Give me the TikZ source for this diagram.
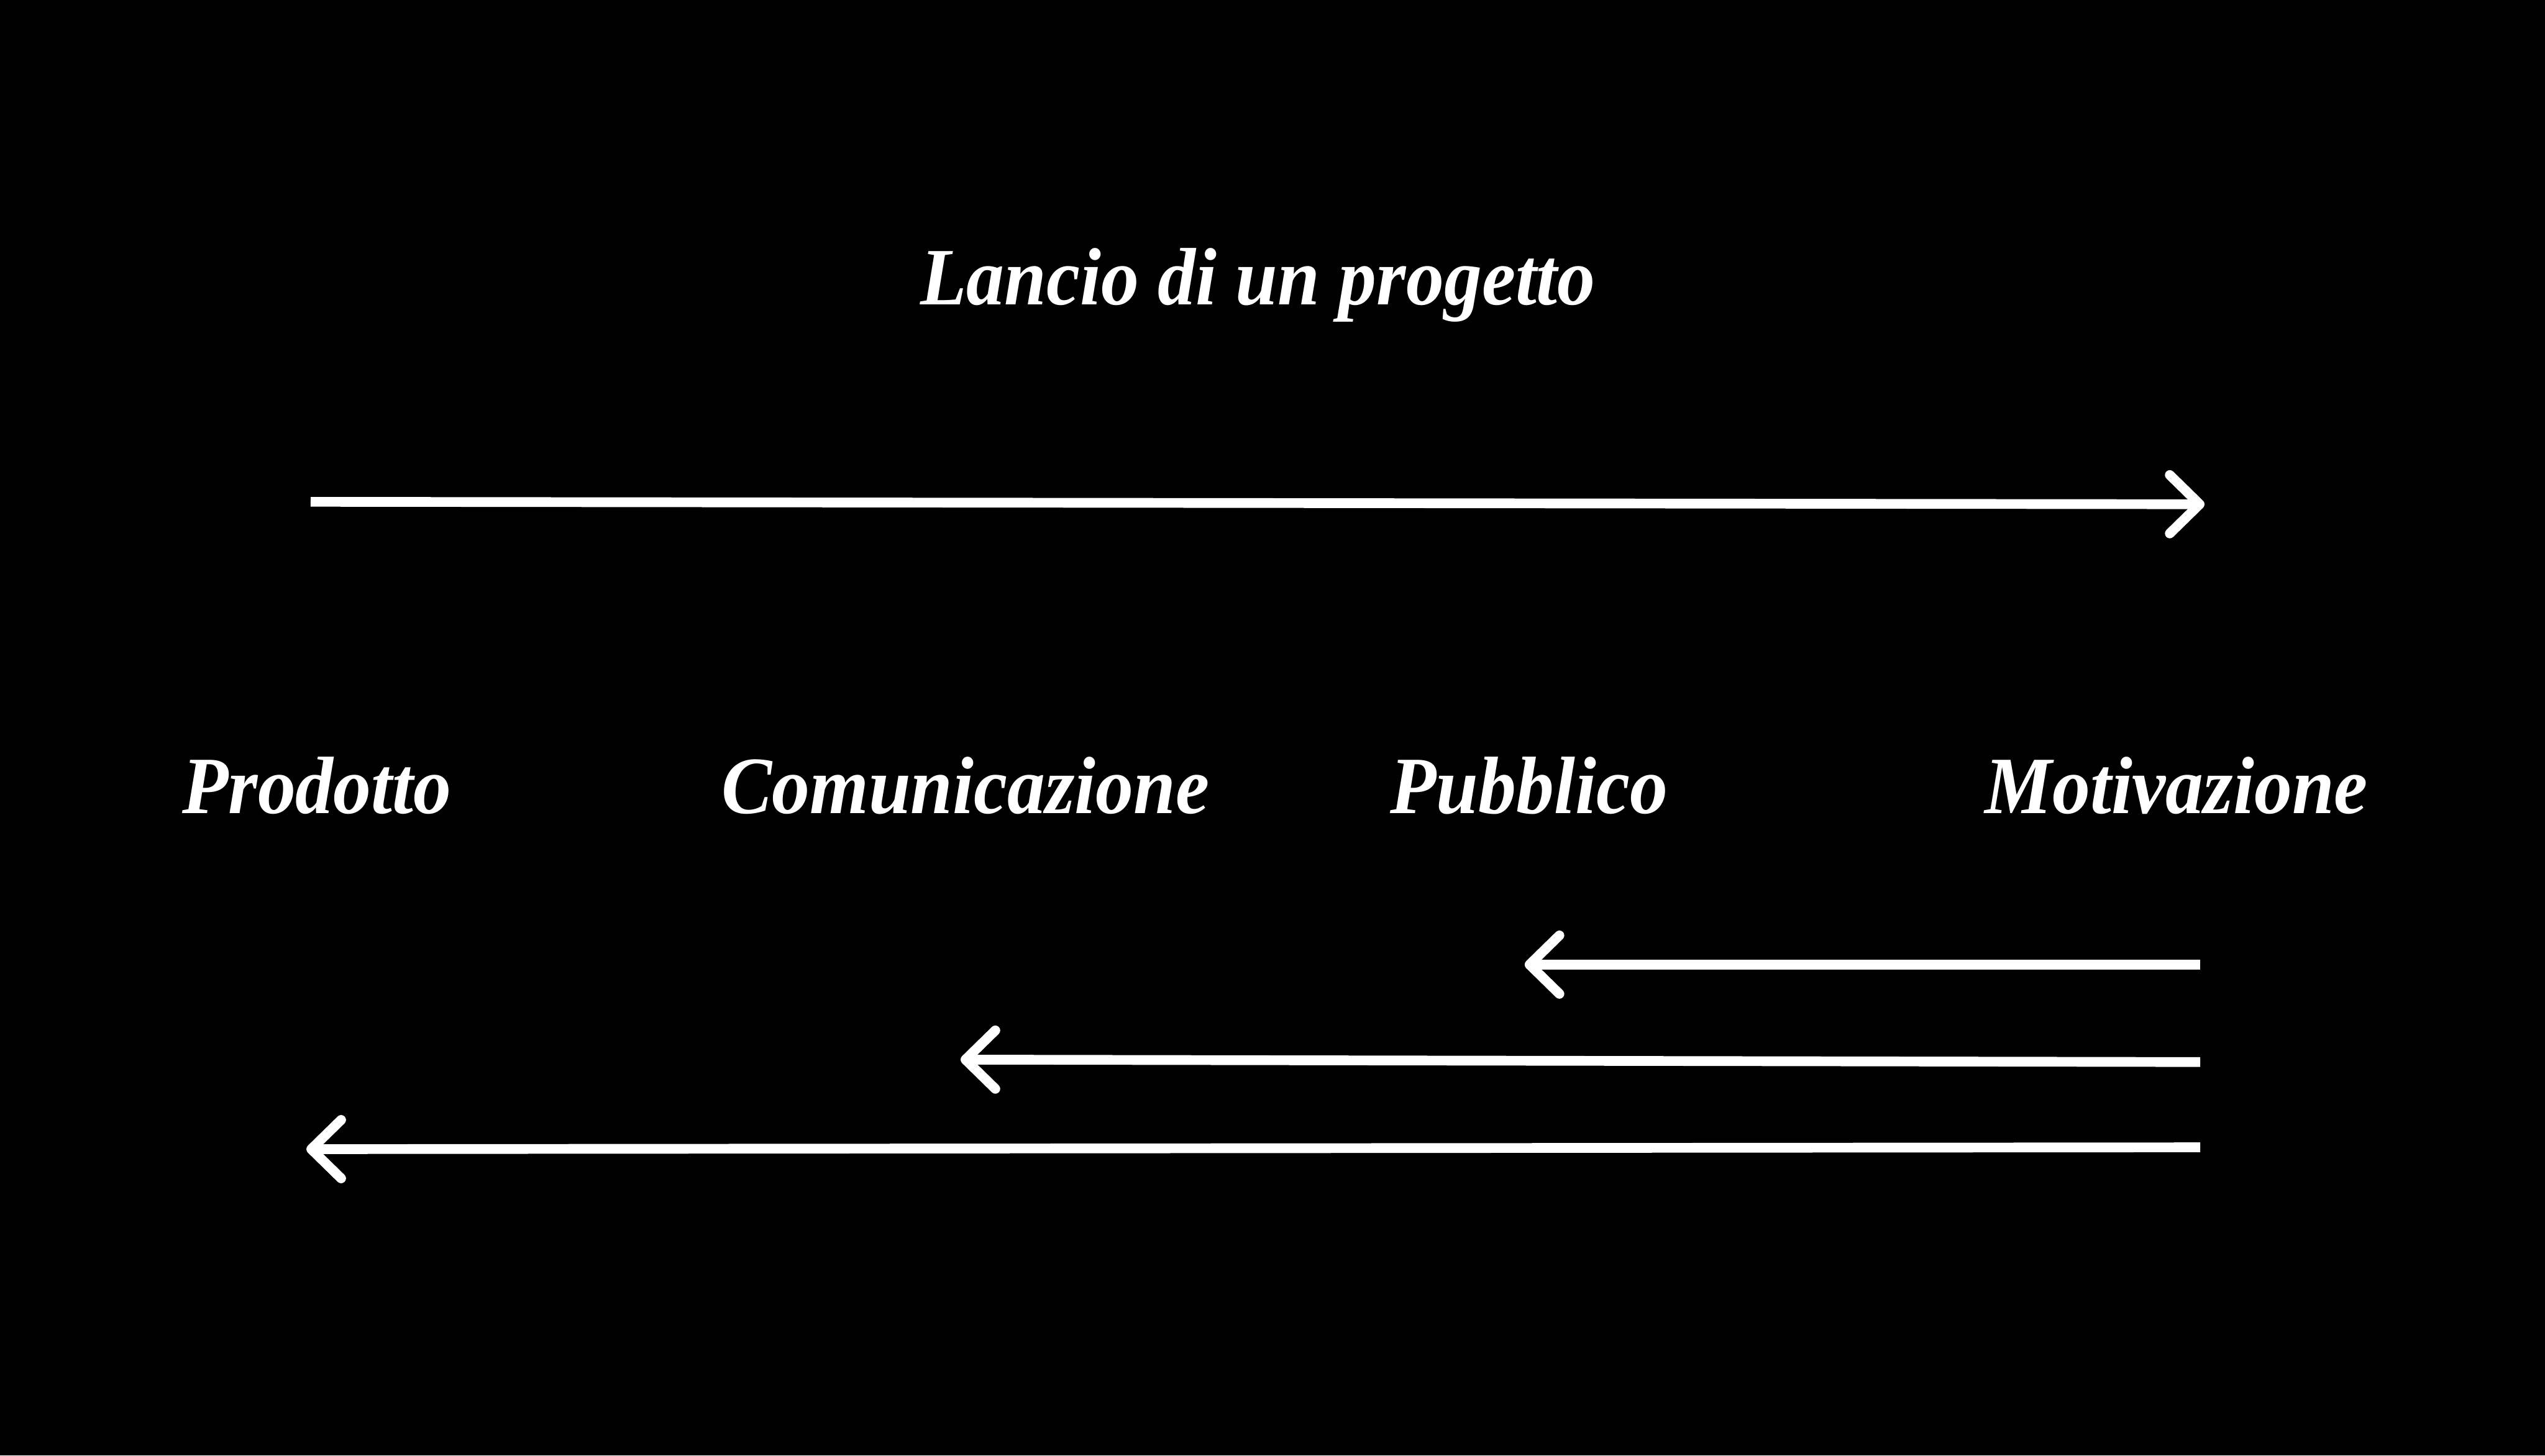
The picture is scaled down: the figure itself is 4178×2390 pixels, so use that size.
\documentclass[tikz,border=0pt]{standalone}
\usepackage{fontspec}
\newfontfamily\labfont[FakeStretch=0.93]{Liberation Serif}
\begin{document}
\begin{tikzpicture}[x=0.01cm,y=-0.01cm,
  lab/.style={text=white,inner sep=0pt,anchor=base,font=\labfont\bfseries\itshape\fontsize{38}{44}\selectfont},
  shaft/.style={draw=white,line width=4.55pt,line cap=butt},
  barb/.style={draw=white,line width=4.55pt,line cap=round,line join=round}]
\fill[black] (0,0) rectangle (4178,2390);
\useasboundingbox (0,0) rectangle (4178,2390);
% texts
\node[lab] (title) at (2065,500) {Lancio di un progetto};
\node[lab] (prod) at (520,1336) {Prodotto};
\node[lab] (comu) at (1585,1336) {Comunicazione};
\node[lab] (pubb) at (2510,1336) {Pubblico};
\node[lab] (moti) at (3573,1336) {Motivazione};
% top arrow
\coordinate (t0) at (510,824);
\coordinate (t1) at (3611,828);
\draw[shaft] (t0) -- (t1);
\draw[barb] ([shift={(-49,-48)}]t1) -- (t1) -- ([shift={(-49,48)}]t1);
% bottom arrows
\coordinate (a0) at (3612,1584);
\coordinate (a1) at (2511,1584);
\coordinate (b0) at (3612,1744);
\coordinate (b1) at (1585,1740);
\coordinate (c0) at (3612,1884);
\coordinate (c1) at (511,1887);
\foreach \s/\e in {a0/a1,b0/b1,c0/c1}{
  \draw[shaft] (\s) -- (\e);
  \draw[barb] ([shift={(49,-48)}]\e) -- (\e) -- ([shift={(49,48)}]\e);
}
\end{tikzpicture}
\end{document}
